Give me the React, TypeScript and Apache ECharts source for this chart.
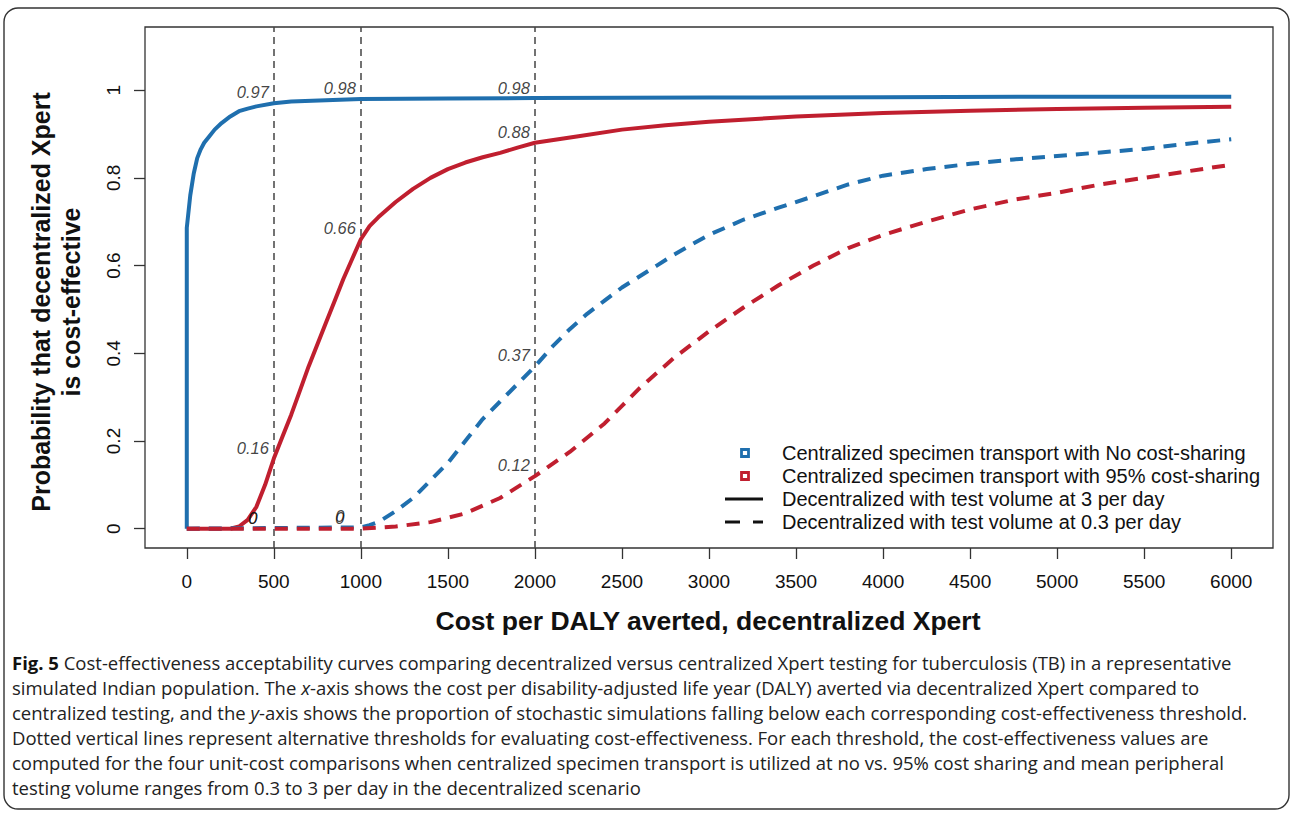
import React, { useEffect, useRef } from "react";
import * as echarts from "echarts";

// ---- Data ----
const thresholds = [500, 1000, 2000];
const xTicks = [0, 500, 1000, 1500, 2000, 2500, 3000, 3500, 4000, 4500, 5000, 5500, 6000];
const yTicks = [0, 0.2, 0.4, 0.6, 0.8, 1];

// Centralized, no cost-sharing; decentralized 3/day (blue solid)
const blueSolidX = [0, 0, 20, 40, 60, 80, 100, 130, 160, 200, 250, 300, 350, 400, 500, 600, 800, 1000, 1500, 2000, 3000, 4000, 5000, 6000];
const blueSolidY = [0, 0.686, 0.76, 0.81, 0.845, 0.865, 0.88, 0.895, 0.91, 0.925, 0.94, 0.952, 0.958, 0.963, 0.97, 0.974, 0.977, 0.98, 0.981, 0.982, 0.983, 0.984, 0.985, 0.985];

// Centralized, 95% cost-sharing; decentralized 3/day (red solid)
const redSolidX = [0, 250, 300, 350, 400, 450, 500, 550, 600, 650, 700, 750, 800, 850, 900, 950, 1000, 1050, 1100, 1200, 1300, 1400, 1500, 1600, 1700, 1800, 1900, 2000, 2250, 2500, 2750, 3000, 3500, 4000, 4500, 5000, 5500, 6000];
const redSolidY = [0, 0, 0.005, 0.02, 0.05, 0.1, 0.16, 0.21, 0.26, 0.315, 0.37, 0.42, 0.47, 0.52, 0.57, 0.615, 0.66, 0.69, 0.71, 0.745, 0.775, 0.8, 0.82, 0.835, 0.847, 0.857, 0.869, 0.88, 0.895, 0.91, 0.92, 0.928, 0.94, 0.948, 0.953, 0.957, 0.96, 0.962];

// Centralized, no cost-sharing; decentralized 0.3/day (blue dashed)
const blueDashX = [0, 1000, 1050, 1100, 1200, 1300, 1400, 1500, 1600, 1700, 1800, 1900, 2000, 2100, 2200, 2300, 2400, 2500, 2600, 2700, 2800, 2900, 3000, 3200, 3400, 3600, 3800, 4000, 4250, 4500, 4750, 5000, 5250, 5500, 5750, 6000];
const blueDashY = [0, 0.003, 0.008, 0.015, 0.04, 0.07, 0.11, 0.15, 0.2, 0.25, 0.29, 0.33, 0.37, 0.415, 0.455, 0.49, 0.52, 0.55, 0.575, 0.6, 0.625, 0.648, 0.67, 0.705, 0.732, 0.758, 0.785, 0.805, 0.82, 0.832, 0.842, 0.85, 0.858, 0.866, 0.878, 0.888];

// Centralized, 95% cost-sharing; decentralized 0.3/day (red dashed)
const redDashX = [0, 1000, 1200, 1400, 1600, 1800, 2000, 2200, 2400, 2500, 2600, 2800, 3000, 3200, 3400, 3600, 3800, 4000, 4250, 4500, 4750, 5000, 5250, 5500, 5750, 6000];
const redDashY = [0, 0, 0.005, 0.015, 0.035, 0.07, 0.12, 0.175, 0.24, 0.28, 0.32, 0.39, 0.45, 0.505, 0.555, 0.6, 0.64, 0.67, 0.7, 0.728, 0.75, 0.766, 0.785, 0.8, 0.815, 0.83];

// Threshold annotations
const annotX = [500, 1000, 2000, 2000, 1000, 2000, 500, 2000, 500, 500, 1000, 1000];
const annotY = [0.97, 0.98, 0.98, 0.88, 0.66, 0.37, 0.16, 0.12, 0, 0, 0.003, 0];
const annotText = ["0.97", "0.98", "0.98", "0.88", "0.66", "0.37", "0.16", "0.12", "0", "0", "0", "0"];

const legendLabels = [
  "Centralized specimen transport with No cost-sharing",
  "Centralized specimen transport with 95% cost-sharing",
  "Decentralized with test volume at 3 per day",
  "Decentralized with test volume at 0.3 per day",
];

const captionLines = [
  "{b|Fig. 5} Cost-effectiveness acceptability curves comparing decentralized versus centralized Xpert testing for tuberculosis (TB) in a representative",
  "simulated Indian population. The {i|x}-axis shows the cost per disability-adjusted life year (DALY) averted via decentralized Xpert compared to",
  "centralized testing, and the {i|y}-axis shows the proportion of stochastic simulations falling below each corresponding cost-effectiveness threshold.",
  "Dotted vertical lines represent alternative thresholds for evaluating cost-effectiveness. For each threshold, the cost-effectiveness values are",
  "computed for the four unit-cost comparisons when centralized specimen transport is utilized at no vs. 95% cost sharing and mean peripheral",
  "testing volume ranges from 0.3 to 3 per day in the decentralized scenario",
];

const BLUE = "#1f6fae";
const RED = "#c01f2f";
const SANS = "Liberation Sans, Arial, sans-serif";
const CAP = "Open Sans, sans-serif";
const CAP_SIZE = 18.5;

const zip = (xs: number[], ys: number[]) => xs.map((x, i) => [x, ys[i]]);

export default function App() {
  const ref = useRef<HTMLDivElement>(null);
  useEffect(() => {
    if (!ref.current) return;
    const chart = echarts.init(ref.current, undefined, { renderer: "svg" });
    const lineSeries = (name: string, data: number[][], color: string, dashed: boolean) => ({
      name,
      type: "line",
      data,
      showSymbol: false,
      symbol: "none",
      silent: true,
      lineStyle: { color, width: 4, type: dashed ? [13, 9] : "solid", cap: "butt" },
      z: 3,
    });

    const legendY = [453, 476, 499, 522];
    const legendGraphics: any[] = [];
    legendLabels.forEach((t, i) => {
      legendGraphics.push({
        type: "text",
        x: 782,
        y: legendY[i],
        style: { text: t, fontSize: 20, fontFamily: SANS, fill: "#111", align: "left", verticalAlign: "middle" },
      });
    });
    legendGraphics.push(
      { type: "rect", shape: { x: 741.5, y: legendY[0] - 3.5, width: 7, height: 7 }, style: { fill: "none", stroke: BLUE, lineWidth: 2.8 } },
      { type: "rect", shape: { x: 741.5, y: legendY[1] - 3.5, width: 7, height: 7 }, style: { fill: "none", stroke: RED, lineWidth: 2.8 } },
      { type: "line", shape: { x1: 725, y1: legendY[2], x2: 763, y2: legendY[2] }, style: { stroke: "#111", lineWidth: 3 } },
      { type: "line", shape: { x1: 725, y1: legendY[3], x2: 740, y2: legendY[3] }, style: { stroke: "#111", lineWidth: 3 } },
      { type: "line", shape: { x1: 753, y1: legendY[3], x2: 763, y2: legendY[3] }, style: { stroke: "#111", lineWidth: 3 } }
    );

    const captionGraphics = captionLines.map((t, i) => ({
      type: "text",
      x: 12,
      y: 662 + i * 25,
      style: {
        text: t,
        fontSize: CAP_SIZE,
        fontFamily: CAP,
        fill: "#222",
        align: "left",
        verticalAlign: "middle",
        rich: {
          b: { fontSize: CAP_SIZE, fontFamily: CAP, fontWeight: "bold", fill: "#111" },
          i: { fontSize: CAP_SIZE, fontFamily: CAP, fontStyle: "italic", fill: "#222" },
        },
      },
    }));

    chart.setOption({
      animation: false,
      grid: { left: 145, top: 27, right: 20, bottom: 266, show: true, borderColor: "#333", borderWidth: 1.3, backgroundColor: "transparent" },
      xAxis: {
        type: "value",
        min: -240,
        max: 6240,
        axisLine: { show: false, onZero: false },
        splitLine: { show: false },
        axisTick: { show: true, length: 11, customValues: xTicks, lineStyle: { color: "#333", width: 1.3 } },
        axisLabel: { customValues: xTicks, fontSize: 19, fontFamily: SANS, color: "#111", margin: 24, formatter: (v: number) => String(v) },
      },
      yAxis: {
        type: "value",
        min: -0.044,
        max: 1.144,
        axisLine: { show: false, onZero: false },
        splitLine: { show: false },
        axisTick: { show: true, length: 11, customValues: yTicks, lineStyle: { color: "#333", width: 1.3 } },
        axisLabel: {
          customValues: yTicks,
          rotate: 90,
          fontSize: 19,
          fontFamily: SANS,
          color: "#111",
          margin: 22,
          formatter: (v: number) => String(Math.round(v * 10) / 10),
        },
      },
      series: [
        {
          ...lineSeries("blueSolid", zip(blueSolidX, blueSolidY), BLUE, false),
          markLine: {
            symbol: "none",
            silent: true,
            label: { show: false },
            lineStyle: { color: "#444", type: [7, 5], width: 1.5 },
            data: thresholds.map((v) => ({ xAxis: v })),
            z: 1,
          },
        },
        lineSeries("redSolid", zip(redSolidX, redSolidY), RED, false),
        lineSeries("blueDash", zip(blueDashX, blueDashY), BLUE, true),
        lineSeries("redDash", zip(redDashX, redDashY), RED, true),
        {
          type: "scatter",
          data: zip(annotX, annotY),
          symbolSize: 1,
          itemStyle: { color: "transparent" },
          silent: true,
          z: 5,
          label: {
            show: true,
            position: "inside",
            offset: [-21, -11],
            fontSize: 16.5,
            fontStyle: "italic",
            fontFamily: SANS,
            color: "#111",
            formatter: (p: any) => annotText[p.dataIndex],
          },
        },
      ],
      graphic: [
        { type: "rect", shape: { x: 4, y: 8, width: 1285, height: 801, r: 14 }, style: { fill: "none", stroke: "#333", lineWidth: 1.4 }, z: 0 },
        {
          type: "text",
          x: 708,
          y: 621,
          style: { text: "Cost per DALY averted, decentralized Xpert", fontSize: 26.5, fontWeight: "bold", fontFamily: SANS, fill: "#111", align: "center", verticalAlign: "middle" },
        },
        {
          type: "text",
          x: 41,
          y: 302,
          rotation: Math.PI / 2,
          style: { text: "Probability that decentralized Xpert", fontSize: 25, fontWeight: "bold", fontFamily: SANS, fill: "#111", align: "center", verticalAlign: "middle" },
        },
        {
          type: "text",
          x: 71,
          y: 302,
          rotation: Math.PI / 2,
          style: { text: "is cost-effective", fontSize: 25, fontWeight: "bold", fontFamily: SANS, fill: "#111", align: "center", verticalAlign: "middle" },
        },
        ...legendGraphics,
        ...captionGraphics,
      ],
    });
    return () => chart.dispose();
  }, []);
  return <div ref={ref} style={{ position: "absolute", left: 0, top: 0, width: 1293, height: 814, background: "#fff" }} />;
}
